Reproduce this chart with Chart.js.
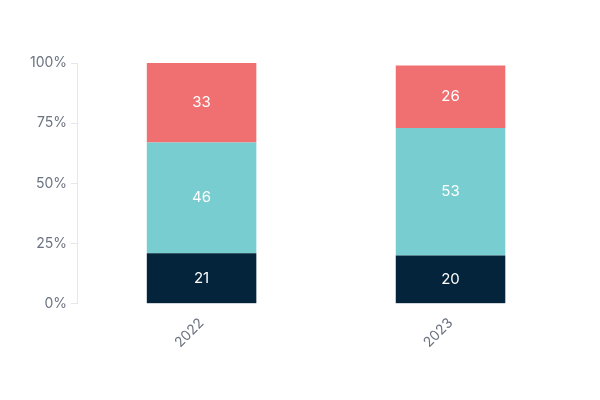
<!DOCTYPE html>
<html><head><meta charset="utf-8">
<script src="https://cdn.jsdelivr.net/npm/chart.js@4"></script>
<style>html,body{margin:0;background:#fff}#w{width:600px;height:400px}</style>
</head><body><div id="w"><canvas id="c"></canvas></div>
<script>
const categories = ["2022", "2023"];
const seriesBottom = [21, 20];
const seriesMiddle = [46, 53];
const seriesTop = [33, 26];
const yTicks = [0, 25, 50, 75, 100];

const labelPlugin = {
  id: 'labels',
  afterDatasetsDraw(chart) {
    const ctx = chart.ctx;
    ctx.save();
    ctx.font = '15px "Inter", sans-serif';
    ctx.fillStyle = '#fff';
    ctx.textAlign = 'center';
    ctx.textBaseline = 'middle';
    chart.data.datasets.forEach((ds, i) => {
      chart.getDatasetMeta(i).data.forEach((bar, j) => {
        const y = (bar.y + bar.base) / 2;
        ctx.fillText(String(ds.data[j]), bar.x, y);
      });
    });
    ctx.restore();
  }
};

new Chart(document.getElementById('c'), {
  type: 'bar',
  data: {
    labels: categories,
    datasets: [
      {data: seriesBottom, backgroundColor: '#03243a'},
      {data: seriesMiddle, backgroundColor: '#78cdd0'},
      {data: seriesTop, backgroundColor: '#f07071'}
    ]
  },
  options: {
    responsive: true, maintainAspectRatio: false, animation: false,
    layout: {padding: {top: 63, right: 25, bottom: 46, left: 26}},
    plugins: {legend: {display: false}, tooltip: {enabled: false}},
    datasets: {bar: {categoryPercentage: 1, barPercentage: 0.44}},
    scales: {
      x: {stacked: true, grid: {display: false}, border: {display: false},
          ticks: {color: '#6b7280', font: {size: 14, family: 'Inter'}, maxRotation: 45, minRotation: 45}},
      y: {stacked: true, min: 0, max: 100,
          afterBuildTicks: ax => { ax.ticks = yTicks.map(v => ({value: v})); },
          grid: {drawOnChartArea: false, drawTicks: true, tickLength: 6, color: '#e5e7eb'},
          border: {display: true, color: '#e5e7eb'},
          ticks: {color: '#6b7280', font: {size: 14, family: 'Inter'}, padding: 4, callback: v => v + '%'}}
    }
  },
  plugins: [labelPlugin]
});
</script></body></html>
